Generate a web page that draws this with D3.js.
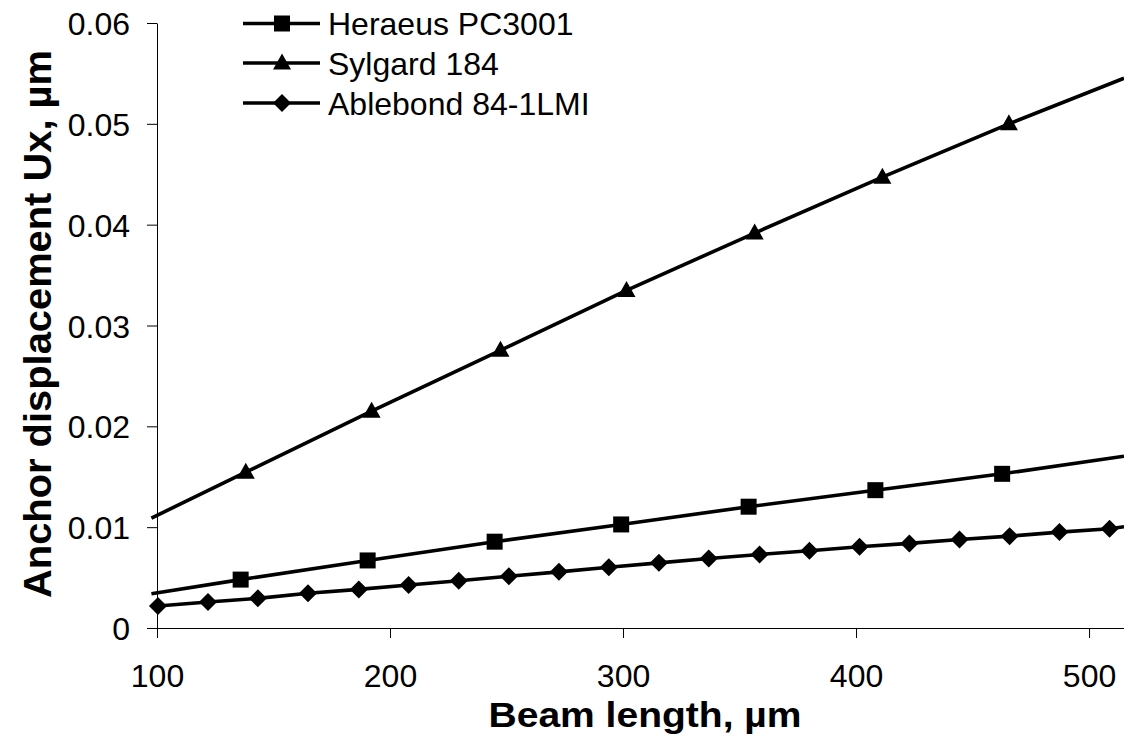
<!DOCTYPE html>
<html>
<head>
<meta charset="utf-8">
<script src="https://cdn.jsdelivr.net/npm/d3@7"></script>
<style>
  body { margin: 0; background: #fff; }
  svg { display: block; font-family: Arial, "Liberation Sans", sans-serif; }
  .axis path, .axis line { stroke: #000; stroke-width: 1; }
  .axis text { font-size: 32px; fill: #000; }
</style>
</head>
<body>
<div id="chart"></div>
<script>
// values
var seriesNames = ["Heraeus PC3001", "Sylgard 184", "Ablebond 84-1LMI"];

var heraeusX = [135.9, 190.4, 244.9, 299.2, 353.9, 408.3, 462.7];
var heraeusY = [0.0048, 0.0067, 0.00856, 0.01027, 0.01203, 0.01367, 0.01529];
var heraeusLineX = [97.6, 135.9, 190.4, 244.9, 299.2, 353.9, 408.3, 462.7, 515];
var heraeusLineY = [0.0034, 0.0048, 0.0067, 0.00856, 0.01027, 0.01203, 0.01367, 0.01529, 0.01704];

var sylgardX = [138.1, 192.1, 247.4, 301.5, 356.5, 411.3, 465.6];
var sylgardY = [0.01545, 0.0215, 0.02754, 0.03348, 0.03917, 0.04471, 0.05];
var sylgardLineX = [97.6, 138.1, 192.1, 247.4, 301.5, 356.5, 411.3, 465.6, 515];
var sylgardLineY = [0.0109, 0.01545, 0.0215, 0.02754, 0.03348, 0.03917, 0.04471, 0.05, 0.05452];

var ablebondX = [100.4, 121.9, 143.3, 164.8, 186.6, 208.0, 229.5, 251.0, 272.5, 293.9,
  315.4, 336.8, 358.6, 380.0, 401.5, 422.9, 444.4, 465.9, 487.3, 508.8];
var ablebondY = [0.00218, 0.00258, 0.00294, 0.00344, 0.00383, 0.00426, 0.00469, 0.00514, 0.00557, 0.00603,
  0.00646, 0.0069, 0.00729, 0.00766, 0.00805, 0.00839, 0.00878, 0.00911, 0.00951, 0.00984];
var ablebondLineX = ablebondX.concat([515]);
var ablebondLineY = ablebondY.concat([0.01004]);

var xTicks = [100, 200, 300, 400, 500];
var yTicks = [0, 0.01, 0.02, 0.03, 0.04, 0.05, 0.06];

// canvas size and margins
var svgWidth = 1124;
var svgHeight = 739;
var margin = { top: 23, right: 0, bottom: 111, left: 157 };
var width = svgWidth - margin.left - margin.right;
var height = svgHeight - margin.top - margin.bottom;

var svg = d3.select("#chart")
  .append("svg")
  .attr("width", svgWidth)
  .attr("height", svgHeight);

var chartGroup = svg.append("g")
  .attr("transform", `translate(${margin.left}, ${margin.top})`);

var xScale = d3.scaleLinear().domain([100, 515]).range([0, width]);
var yScale = d3.scaleLinear().domain([0, 0.06]).range([height, 0]);

// axes
var xAxis = chartGroup.append("g")
  .attr("class", "axis")
  .attr("transform", `translate(0, ${height})`)
  .call(d3.axisBottom(xScale).tickValues(xTicks).tickSize(10).tickSizeOuter(0));
xAxis.selectAll("text").attr("y", 59).attr("dy", 0);

var yAxis = chartGroup.append("g")
  .attr("class", "axis")
  .call(d3.axisLeft(yScale).tickValues(yTicks).tickSize(10).tickSizeOuter(0)
    .tickFormat(d => d === 0 ? "0" : d3.format(".2f")(d)));
yAxis.selectAll("text").attr("x", -27).attr("dy", "0.36em");

// marker shapes
function markerPath(type) {
  if (type === "square") return "M-8,-8H8V8H-8Z";
  if (type === "triangle") return "M0,-9.5L9,6.5H-9Z";
  return "M0,-9L9,0L0,9L-9,0Z";
}

var series = [
  { name: seriesNames[0], marker: "square", xs: heraeusX, ys: heraeusY, lx: heraeusLineX, ly: heraeusLineY },
  { name: seriesNames[1], marker: "triangle", xs: sylgardX, ys: sylgardY, lx: sylgardLineX, ly: sylgardLineY },
  { name: seriesNames[2], marker: "diamond", xs: ablebondX, ys: ablebondY, lx: ablebondLineX, ly: ablebondLineY }
];

var line = d3.line()
  .x(d => xScale(d[0]))
  .y(d => yScale(d[1]));

series.forEach(function(s) {
  var pts = s.lx.map((x, i) => [x, s.ly[i]]);
  chartGroup.append("path")
    .datum(pts)
    .attr("d", line)
    .attr("fill", "none")
    .attr("stroke", "#000")
    .attr("stroke-width", 3.6);

  chartGroup.append("g")
    .selectAll("path")
    .data(s.xs.map((x, i) => [x, s.ys[i]]))
    .enter()
    .append("path")
    .attr("d", markerPath(s.marker))
    .attr("transform", d => `translate(${xScale(d[0])}, ${yScale(d[1])})`)
    .attr("fill", "#000");
});

// legend
var legend = svg.append("g");
var legendRows = [23.5, 63, 103];
series.forEach(function(s, i) {
  var row = legend.append("g").attr("transform", `translate(0, ${legendRows[i]})`);
  row.append("line")
    .attr("x1", 243).attr("x2", 320)
    .attr("y1", 0).attr("y2", 0)
    .attr("stroke", "#000")
    .attr("stroke-width", 3.6);
  row.append("path")
    .attr("d", markerPath(s.marker))
    .attr("transform", "translate(282, 0)")
    .attr("fill", "#000");
  row.append("text")
    .attr("x", 328)
    .attr("y", 0)
    .attr("dy", "0.36em")
    .style("font-size", "32px")
    .text(s.name);
});

// axis titles
svg.append("text")
  .attr("x", 645)
  .attr("y", 727)
  .attr("text-anchor", "middle")
  .attr("textLength", 313)
  .attr("lengthAdjust", "spacingAndGlyphs")
  .style("font-size", "35px")
  .style("font-weight", "bold")
  .text("Beam length, µm");

svg.append("text")
  .attr("transform", "translate(51, 324) rotate(-90)")
  .attr("text-anchor", "middle")
  .attr("textLength", 548)
  .attr("lengthAdjust", "spacingAndGlyphs")
  .style("font-size", "38px")
  .style("font-weight", "bold")
  .text("Anchor displacement Ux, µm");
</script>
</body>
</html>
